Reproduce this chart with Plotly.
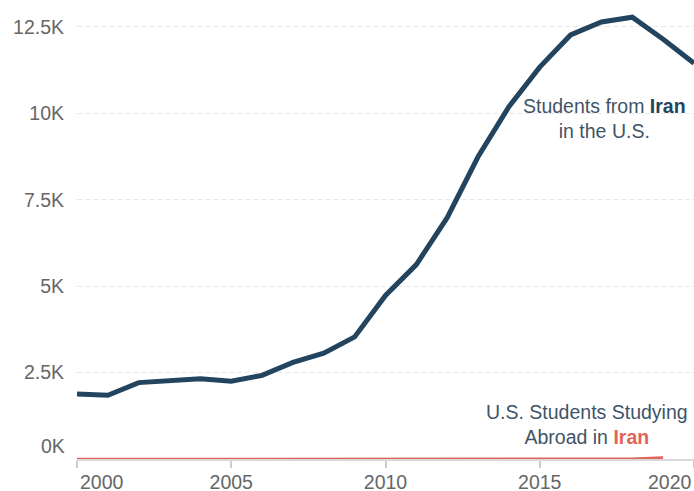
import plotly.graph_objects as go

years = list(range(2000, 2021))
iran_in_us = [1880, 1844, 2210, 2258, 2321, 2250, 2420, 2795, 3060, 3533, 4731,
              5626, 6982, 8744, 10194, 11338, 12269, 12643, 12783, 12142, 11451]
years_us = list(range(2000, 2020))
us_in_iran = [0, 0, 0, 0, 0, 2, 5, 3, 2, 2, 1, 1, 1, 5, 15, 10, 5, 5, 10, 40]

y_ticks = [2500, 5000, 7500, 10000, 12500]
y_ticktext = ["2.5K", "5K", "7.5K", "10K", "12.5K"]
x_ticks = [2000, 2005, 2010, 2015, 2020]
x_ticktext = ["", "2005", "2010", "2015", ""]

NAVY = "#23445f"
RED = "#e0645a"
TEXT = "#3f5468"
GRAY = "#666666"
FONT = "Liberation Sans, Arial, sans-serif"
FS = 19.5

fig = go.Figure()
fig.add_trace(go.Scatter(x=years_us, y=us_in_iran, mode="lines",
                         line=dict(color=RED, width=2.5), hoverinfo="skip"))
fig.add_trace(go.Scatter(x=years, y=iran_in_us, mode="lines",
                         line=dict(color=NAVY, width=5), hoverinfo="skip"))

fig.update_layout(
    width=694, height=491,
    margin=dict(l=77, r=0, t=0, b=31.5, autoexpand=False),
    paper_bgcolor="white", plot_bgcolor="white",
    showlegend=False,
    font=dict(family=FONT, size=FS, color=GRAY),
    xaxis=dict(range=[2000, 2020], tickvals=x_ticks, ticktext=x_ticktext,
               ticks="outside", ticklen=7, tickcolor="#cccccc", tickwidth=1.5,
               showline=True, linecolor="#d9d9d9", linewidth=1.5,
               showgrid=False, zeroline=False, fixedrange=True, automargin=False,
               ticklabelstandoff=-2,
               tickfont=dict(family=FONT, size=FS, color=GRAY)),
    yaxis=dict(range=[0, 13280], tickvals=y_ticks, ticktext=y_ticktext,
               ticks="", ticklabelstandoff=12, automargin=False,
               showgrid=True, gridcolor="#e8e8e8", gridwidth=1.2, griddash="5px,3px",
               zeroline=False, showline=False, fixedrange=True,
               tickfont=dict(family=FONT, size=FS, color=GRAY)),
    annotations=[
        dict(text="2000", x=2000, y=0, xref="x", yref="paper", xanchor="left",
             yanchor="top", showarrow=False, xshift=1, yshift=-10,
             font=dict(family=FONT, size=FS, color=GRAY)),
        dict(text="2020", x=2020, y=0, xref="x", yref="paper", xanchor="right",
             yanchor="top", showarrow=False, xshift=0, yshift=-10,
             font=dict(family=FONT, size=FS, color=GRAY)),
        dict(text="0K", x=0, y=0, xref="paper", yref="y", xanchor="right",
             yanchor="bottom", showarrow=False, xshift=-10, yshift=0,
             font=dict(family=FONT, size=FS, color=GRAY)),
        dict(text="Students from <b style='color:%s'>Iran</b><br>in the U.S." % NAVY,
             x=2017.1, y=9855, xref="x", yref="y", xanchor="center", yanchor="middle",
             showarrow=False, align="center",
             font=dict(family=FONT, size=FS, color=TEXT)),
        dict(text="U.S. Students Studying<br>Abroad in <b style='color:%s'>Iran</b>" % RED,
             x=2016.53, y=1010, xref="x", yref="y", xanchor="center", yanchor="middle",
             showarrow=False, align="center",
             font=dict(family=FONT, size=FS, color=TEXT)),
    ],
)

fig.write_html("out.html", config={"displayModeBar": False},
               post_script="document.body.style.margin='0';document.body.style.overflow='hidden';")
